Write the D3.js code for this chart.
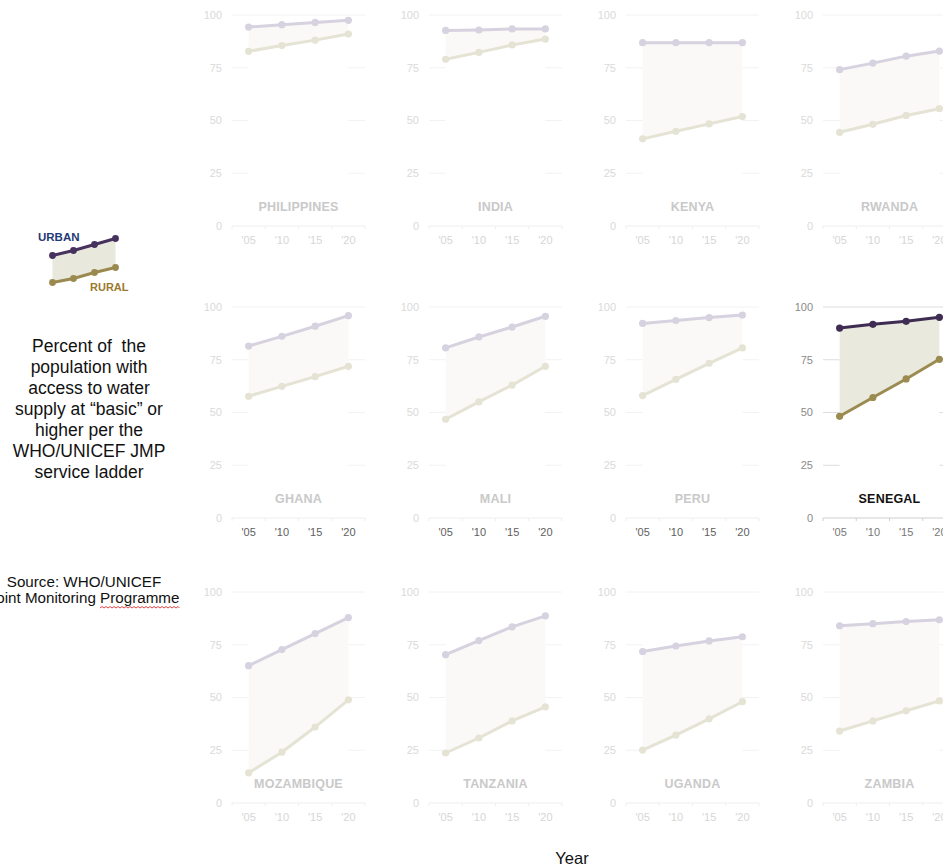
<!DOCTYPE html>
<html>
<head>
<meta charset="utf-8">
<script src="https://cdn.jsdelivr.net/npm/d3@7"></script>
<style>
  html, body { margin: 0; padding: 0; background: #fff; }
  svg { display: block; font-family: "Liberation Sans", Arial, sans-serif; }
  .note { white-space: pre; }
</style>
</head>
<body>
<svg id="chart" width="943" height="868"></svg>
<script>
// ---------------- DATA ----------------
const countries = ["PHILIPPINES", "INDIA", "KENYA", "RWANDA",
                   "GHANA", "MALI", "PERU", "SENEGAL",
                   "MOZAMBIQUE", "TANZANIA", "UGANDA", "ZAMBIA"];
const years = ["'05", "'10", "'15", "'20"];
const yTicks = [0, 25, 50, 75, 100];
const highlight = "SENEGAL";

const urban = [
  [94.3, 95.4, 96.5, 97.5],   // Philippines
  [92.7, 92.9, 93.4, 93.4],   // India
  [86.9, 86.9, 86.9, 86.9],   // Kenya
  [74.1, 77.2, 80.5, 82.9],   // Rwanda
  [81.5, 86.1, 90.9, 95.9],   // Ghana
  [80.6, 85.8, 90.5, 95.6],   // Mali
  [92.2, 93.6, 95.0, 96.2],   // Peru
  [90.0, 91.8, 93.2, 95.1],   // Senegal
  [65.1, 72.7, 80.3, 87.9],   // Mozambique
  [70.3, 77.0, 83.5, 88.7],   // Tanzania
  [71.8, 74.4, 76.8, 78.8],   // Uganda
  [84.0, 85.0, 86.0, 86.8]    // Zambia
];
const rural = [
  [82.8, 85.5, 88.1, 91.0],
  [79.0, 82.3, 85.8, 88.6],
  [41.3, 44.9, 48.4, 51.9],
  [44.4, 48.2, 52.4, 55.6],
  [57.7, 62.4, 67.0, 71.9],
  [46.8, 55.0, 63.0, 71.9],
  [58.0, 65.7, 73.3, 80.6],
  [48.2, 57.1, 65.9, 75.2],
  [14.3, 24.1, 36.0, 48.9],
  [23.7, 30.8, 38.9, 45.6],
  [25.1, 32.2, 39.9, 48.0],
  [34.1, 38.9, 43.7, 48.4]
];

// legend sample series (illustrative shape)
const legendSteps = [0, 1, 2, 3];
const legendUrban = [59, 69, 81, 93];
const legendRural = [5, 13, 25, 35];

const noteLines = ["Percent of  the", "population with", "access to water",
                   "supply at \u201cbasic\u201d or", "higher per the",
                   "WHO/UNICEF JMP", "service ladder"];
const sourceLines = ["Source: WHO/UNICEF", "Joint Monitoring Programme"];

// ---------------- LAYOUT ----------------
const colX = [232, 429, 626, 823];
const rowY = [15, 307, 592];
const plotW = 133, plotH = 211;

const svg = d3.select("#chart");
svg.append("rect").attr("width", 943).attr("height", 868).attr("fill", "#fff");

const x = d3.scaleBand().domain(years).range([0, plotW]);
const y = d3.scaleLinear().domain([0, 100]).range([plotH, 0]);
const cx = d => x(d) + x.bandwidth() / 2;

const styles = {
  faded: { urban: "#d6d2df", rural: "#e5e3d4", area: "#faf9f7", grid: "#f2f2f2",
           ylab: "#dadada", title: "#c9c9c9", base: "#eeeeee" },
  hi:    { urban: "#3e2c53", rural: "#9b8b51", area: "#e9e9de", grid: "#dddddd",
           ylab: "#8a8a8a", title: "#111111", base: "#cfcfcf" }
};

countries.forEach((name, i) => {
  const col = i % 4, row = Math.floor(i / 4);
  const s = name === highlight ? styles.hi : styles.faded;
  const g = svg.append("g").attr("transform", `translate(${colX[col]},${rowY[row]})`);

  // gridlines
  g.selectAll("line.grid").data(yTicks.filter(t => t > 0)).enter().append("line")
    .attr("x1", 0).attr("x2", plotW)
    .attr("y1", d => y(d)).attr("y2", d => y(d))
    .attr("stroke", s.grid).attr("stroke-width", 1);

  // white mask over the inner gridlines
  g.append("rect")
    .attr("x", cx(years[0])).attr("width", cx(years[3]) - cx(years[0]))
    .attr("y", y(98)).attr("height", y(2) - y(98))
    .attr("fill", "#fff");

  // baseline with band-edge ticks
  g.append("line").attr("x1", 0).attr("x2", plotW)
    .attr("y1", y(0)).attr("y2", y(0)).attr("stroke", s.base);
  const edges = years.map(d => x(d)).concat([plotW]);
  g.selectAll("line.tk").data(edges).enter().append("line")
    .attr("x1", d => d).attr("x2", d => d)
    .attr("y1", y(0)).attr("y2", y(0) + 3).attr("stroke", s.base);

  // y labels
  g.selectAll("text.yl").data(yTicks).enter().append("text")
    .attr("x", -10).attr("y", d => y(d)).attr("dy", "0.35em")
    .attr("text-anchor", "end").attr("font-size", 11).attr("fill", s.ylab)
    .text(d => d);

  // x labels
  const xlabColor = name === highlight ? "#777" : (row === 1 ? "#5e5e5e" : "#d6d6d6");
  g.selectAll("text.xl").data(years).enter().append("text")
    .attr("x", d => cx(d)).attr("y", y(0) + 18)
    .attr("text-anchor", "middle").attr("font-size", 11).attr("fill", xlabColor)
    .text(d => d);

  // area between
  const pts = years.map((yr, k) => ({ yr, u: urban[i][k], r: rural[i][k] }));
  g.append("path").datum(pts)
    .attr("d", d3.area().x(d => cx(d.yr)).y0(d => y(d.r)).y1(d => y(d.u)))
    .attr("fill", s.area);

  // lines + dots
  [["r", s.rural], ["u", s.urban]].forEach(([key, color]) => {
    g.append("path").datum(pts)
      .attr("d", d3.line().x(d => cx(d.yr)).y(d => y(d[key])))
      .attr("fill", "none").attr("stroke", color).attr("stroke-width", 3);
    g.selectAll(null).data(pts).enter().append("circle")
      .attr("cx", d => cx(d.yr)).attr("cy", d => y(d[key]))
      .attr("r", 3.6).attr("fill", color);
  });

  // title
  g.append("text")
    .attr("x", (cx(years[0]) + cx(years[3])) / 2).attr("y", y(0) - 15)
    .attr("text-anchor", "middle").attr("font-size", 12.5).attr("font-weight", "bold")
    .attr("letter-spacing", 0.2)
    .attr("fill", s.title).text(name);
});

// ---------------- LEGEND ----------------
const lx = d3.scaleBand().domain(legendSteps).range([42, 126]);
const lcx = d => lx(d) + lx.bandwidth() / 2;
const ly = d3.scaleLinear().domain([0, 100]).range([285, 235]);
const lg = svg.append("g");
const lpts = legendSteps.map((s, k) => ({ s, u: legendUrban[k], r: legendRural[k] }));
lg.append("path").datum(lpts)
  .attr("d", d3.area().x(d => lcx(d.s)).y0(d => ly(d.r)).y1(d => ly(d.u)))
  .attr("fill", "#e8e8dd");
[["u", "#46325c"], ["r", "#9b8a4f"]].forEach(([key, color]) => {
  lg.append("path").datum(lpts)
    .attr("d", d3.line().x(d => lcx(d.s)).y(d => ly(d[key])))
    .attr("fill", "none").attr("stroke", color).attr("stroke-width", 3);
  lg.selectAll(null).data(lpts).enter().append("circle")
    .attr("cx", d => lcx(d.s)).attr("cy", d => ly(d[key]))
    .attr("r", 3.4).attr("fill", color);
});
lg.append("text").attr("x", 38).attr("y", 241).attr("font-size", 11.5)
  .attr("font-weight", "bold").attr("fill", "#1f3a76").text("URBAN");
lg.append("text").attr("x", 90).attr("y", 291).attr("font-size", 11)
  .attr("font-weight", "bold").attr("fill", "#9a7a2e").text("RURAL");

// ---------------- NOTES ----------------
svg.append("g").selectAll("text").data(noteLines).enter().append("text")
  .attr("class", "note")
  .attr("x", 89).attr("y", (d, k) => 351.5 + k * 21)
  .attr("text-anchor", "middle").attr("font-size", 17.5).attr("fill", "#111")
  .text(d => d);

const src = svg.append("g");
const srcText = src.selectAll("text").data(sourceLines).enter().append("text")
  .attr("x", 84).attr("y", (d, k) => 586.5 + k * 16.5)
  .attr("text-anchor", "middle").attr("font-size", 15.2).attr("fill", "#111")
  .text(d => d);

// red spell-check squiggle under "Programme"
const line2 = srcText.nodes()[1];
const str = sourceLines[1];
const startIdx = str.indexOf("Programme");
const p0 = line2.getStartPositionOfChar(startIdx).x;
const p1 = line2.getEndPositionOfChar(str.length - 1).x;
const sq = d3.path();
const sy = 608;
sq.moveTo(p0, sy);
let xx = p0, up = true;
while (xx < p1) { xx += 2; sq.lineTo(Math.min(xx, p1), up ? sy - 1.5 : sy); up = !up; }
src.append("path").attr("d", sq.toString()).attr("fill", "none")
  .attr("stroke", "#e03030").attr("stroke-width", 0.9);

svg.append("text").attr("x", 572).attr("y", 864).attr("text-anchor", "middle")
  .attr("font-size", 16.5).attr("fill", "#111").text("Year");
</script>
</body>
</html>
